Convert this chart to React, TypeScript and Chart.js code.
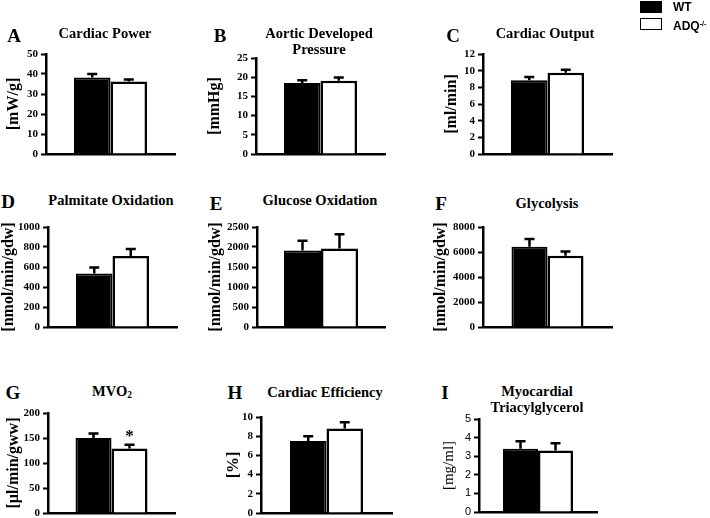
import React, { useEffect, useRef } from 'react';
import { Chart, registerables } from 'chart.js';

Chart.register(...registerables);

// ---------- data ----------
const panelLetters = ['A', 'B', 'C', 'D', 'E', 'F', 'G', 'H', 'I'];
const panelTitles: string[][] = [
  ['Cardiac Power'],
  ['Aortic Developed', 'Pressure'],
  ['Cardiac Output'],
  ['Palmitate Oxidation'],
  ['Glucose Oxidation'],
  ['Glycolysis'],
  ['MVO2'],
  ['Cardiac Efficiency'],
  ['Myocardial', 'Triacylglycerol'],
];
const yUnits = [
  '[mW/g]',
  '[mmHg]',
  '[ml/min]',
  '[nmol/min/gdw]',
  '[nmol/min/gdw]',
  '[nmol/min/gdw]',
  '[µl/min/gww]',
  '[%]',
  '[mg/ml]',
];
const groupNames = ['WT', 'ADQ-/-'];
const wtMeans = [38.3, 18.5, 8.85, 535, 1910, 6420, 150, 7.5, 3.4];
const wtErrors = [1.7, 0.7, 0.4, 60, 245, 620, 9, 0.5, 0.4];
const adqMeans = [36.3, 19.1, 9.75, 710, 1960, 5700, 129, 8.8, 3.3];
const adqErrors = [1.0, 0.8, 0.35, 70, 360, 350, 7.5, 0.65, 0.4];
const adqMarks = ['', '', '', '', '', '', '*', '', ''];
const yMax = [50, 25, 12, 1000, 2500, 8000, 200, 10, 5];
const yStep = [10, 5, 2, 200, 500, 2000, 50, 2, 1];

// ---------- layout (pixel positions of each panel) ----------
type Box = {
  left: number; top: number; right: number; bottom: number;
  barL: number; barR: number;
  unitX: number; titleX: number; titleY: number[];
  letterX: number; letterY: number;
};
const boxes: Box[] = [
  { left: 46, top: 54, right: 175, bottom: 154, barL: 75, barR: 148, unitX: 14, titleX: 105, titleY: [33], letterX: 14, letterY: 35 },
  { left: 256, top: 58, right: 385, bottom: 154, barL: 284, barR: 357, unitX: 215, titleX: 319, titleY: [33, 49], letterX: 220, letterY: 35 },
  { left: 483, top: 54, right: 612, bottom: 154, barL: 511, barR: 584, unitX: 452, titleX: 545, titleY: [33], letterX: 453, letterY: 35 },
  { left: 48, top: 227, right: 177, bottom: 327, barL: 76, barR: 149, unitX: 9, titleX: 111, titleY: [200], letterX: 8, letterY: 201 },
  { left: 257, top: 227, right: 385, bottom: 327, barL: 284, barR: 358, unitX: 216, titleX: 320, titleY: [200], letterX: 216, letterY: 203 },
  { left: 483, top: 227, right: 612, bottom: 327, barL: 512, barR: 584, unitX: 441, titleX: 547, titleY: [203], letterX: 441, letterY: 203 },
  { left: 48, top: 413, right: 175, bottom: 513, barL: 76, barR: 148, unitX: 14, titleX: 112, titleY: [392], letterX: 13, letterY: 392 },
  { left: 261, top: 417, right: 392, bottom: 513, barL: 290, barR: 363, unitX: 234, titleX: 325, titleY: [392], letterX: 235, letterY: 392 },
  { left: 479, top: 419, right: 597, bottom: 512, barL: 504, barR: 574, unitX: 449, titleX: 537, titleY: [391, 407], letterX: 445, letterY: 392 },
];

const SERIF = '"Liberation Serif", "Times New Roman", serif';
const SANS = '"Liberation Sans", Arial, sans-serif';

const errorBarPlugin = {
  id: 'errorBars',
  afterDatasetsDraw(chart: any) {
    const ctx = chart.ctx;
    const yScale = chart.scales.y;
    chart.data.datasets.forEach((ds: any, i: number) => {
      const meta = chart.getDatasetMeta(i);
      meta.data.forEach((bar: any, j: number) => {
        const v = ds.data[j];
        const e = ds.errors ? ds.errors[j] : 0;
        const yTop = yScale.getPixelForValue(v);
        const yE = yScale.getPixelForValue(v + e);
        ctx.save();
        ctx.strokeStyle = '#000';
        ctx.lineWidth = 2.5;
        ctx.beginPath();
        ctx.moveTo(bar.x, yTop);
        ctx.lineTo(bar.x, yE);
        ctx.moveTo(bar.x - 5, yE);
        ctx.lineTo(bar.x + 5, yE);
        ctx.stroke();
        if (ds.marks && ds.marks[j]) {
          ctx.fillStyle = '#000';
          ctx.font = `bold 17px ${SERIF}`;
          ctx.textAlign = 'center';
          ctx.textBaseline = 'alphabetic';
          ctx.fillText(ds.marks[j], bar.x, yE - 4);
        }
        ctx.restore();
      });
    });
  },
};

function Panel({ idx }: { idx: number }) {
  const ref = useRef<HTMLCanvasElement>(null);
  const b = boxes[idx];
  const isLast = idx === 8;
  const unitSize = isLast ? 15 : 16;
  const half = (unitSize * 1.2) / 2;
  const L = Math.round(b.unitX - half);
  const padTop = 10;
  const padBottom = 10;
  const padRight = 4;
  const w = b.right - L + padRight;
  const h = b.bottom - b.top + padTop + padBottom;
  const yWidth = b.left - L;
  const catPct = (b.barR - b.barL) / (b.right - b.left);

  useEffect(() => {
    if (!ref.current) return;
    const chart = new Chart(ref.current, {
      type: 'bar',
      data: {
        labels: [''],
        datasets: [
          {
            label: groupNames[0],
            data: [wtMeans[idx]],
            errors: [wtErrors[idx]],
            marks: [''],
            backgroundColor: '#000',
            borderColor: '#000',
            borderWidth: 2,
            borderSkipped: 'start',
          } as any,
          {
            label: groupNames[1],
            data: [adqMeans[idx]],
            errors: [adqErrors[idx]],
            marks: [adqMarks[idx]],
            backgroundColor: '#fff',
            borderColor: '#000',
            borderWidth: 2.5,
            borderSkipped: 'start',
          } as any,
        ],
      },
      options: {
        responsive: false,
        animation: false,
        devicePixelRatio: 1,
        layout: { padding: { top: padTop, bottom: padBottom, left: 0, right: padRight } },
        datasets: { bar: { categoryPercentage: catPct, barPercentage: 1 } },
        plugins: {
          legend: { display: false },
          title: { display: false },
          tooltip: { enabled: false },
        },
        scales: {
          x: {
            grid: { display: false },
            ticks: { display: false },
            border: { color: '#000', width: 2.5 },
            afterFit: (s: any) => { s.height = 0; },
          },
          y: {
            min: 0,
            max: yMax[idx],
            ticks: {
              stepSize: yStep[idx],
              color: '#000',
              padding: 3,
              callback: (v: any) => String(v),
              font: isLast
                ? { family: SANS, size: 11, weight: 'normal' }
                : { family: SERIF, size: 11, weight: 'bold' },
            },
            grid: {
              drawOnChartArea: false,
              drawTicks: true,
              tickLength: 5,
              tickWidth: 2,
              color: '#000',
            },
            border: { color: '#000', width: 2.5 },
            title: {
              display: true,
              text: yUnits[idx],
              color: '#000',
              padding: 0,
              font: { family: SERIF, size: unitSize, weight: isLast ? 'normal' : 'bold', lineHeight: 1.2 },
            },
            afterFit: (s: any) => { s.width = yWidth; },
          },
        },
      } as any,
      plugins: [errorBarPlugin],
    });
    return () => chart.destroy();
  }, []);

  return (
    <canvas
      ref={ref}
      width={w}
      height={h}
      style={{ position: 'absolute', left: L, top: b.top - padTop, width: w, height: h }}
    />
  );
}

const centered: React.CSSProperties = {
  position: 'absolute',
  transform: 'translate(-50%, -50%)',
  whiteSpace: 'nowrap',
  lineHeight: 1,
  color: '#000',
};

function TitleLine({ text, x, y }: { text: string; x: number; y: number }) {
  const content = text === 'MVO2' ? (<>MVO<sub style={{ fontSize: '0.65em', verticalAlign: '-0.25em' }}>2</sub></>) : text;
  return (
    <div style={{ ...centered, left: x, top: y, fontFamily: SERIF, fontWeight: 'bold', fontSize: 14.5 }}>
      {content}
    </div>
  );
}

export default function App() {
  return (
    <div style={{ position: 'absolute', left: 0, top: 0, width: 710, height: 518, overflow: 'hidden', background: '#fff' }}>
      {boxes.map((b, i) => (
        <React.Fragment key={i}>
          <Panel idx={i} />
          <div style={{ ...centered, left: b.letterX, top: b.letterY, fontFamily: SERIF, fontWeight: 'bold', fontSize: 19 }}>
            {panelLetters[i]}
          </div>
          {panelTitles[i].map((t, k) => (
            <TitleLine key={k} text={t} x={b.titleX} y={b.titleY[k]} />
          ))}
        </React.Fragment>
      ))}
      {/* legend */}
      <div style={{ position: 'absolute', left: 640, top: 1, width: 22, height: 12, background: '#000' }} />
      <div style={{ position: 'absolute', left: 640, top: 18, width: 22, height: 12, background: '#fff', border: '1.5px solid #000', boxSizing: 'border-box' }} />
      <div style={{ position: 'absolute', left: 673, top: 0, fontFamily: SANS, fontWeight: 'bold', fontSize: 12, lineHeight: '14px', color: '#000' }}>
        {groupNames[0]}
      </div>
      <div style={{ position: 'absolute', left: 673, top: 17, fontFamily: SANS, fontWeight: 'bold', fontSize: 12, lineHeight: '14px', color: '#000', whiteSpace: 'nowrap' }}>
        ADQ<sup style={{ fontSize: '0.6em', verticalAlign: '0.55em' }}>-/-</sup>
      </div>
    </div>
  );
}
